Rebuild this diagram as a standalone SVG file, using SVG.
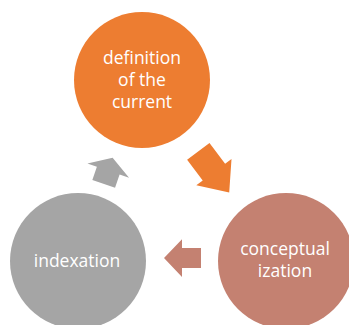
<svg xmlns="http://www.w3.org/2000/svg" width="349" height="325" viewBox="0 0 349 325">
  <style>
    .lbl { font-family: "Open Sans", "Liberation Sans", sans-serif; font-size: 17.5px; fill: #ffffff; text-anchor: middle; }
  </style>
  <rect width="349" height="325" fill="#ffffff"/>
  <g id="node-definition">
    <circle cx="142" cy="80" r="68" fill="#ED7D31"/>
    <text class="lbl" x="142" y="64">definition</text>
    <text class="lbl" x="142" y="86">of the</text>
    <text class="lbl" x="142" y="108">current</text>
  </g>
  <g id="node-conceptualization">
    <circle cx="286" cy="261" r="68" fill="#C48171"/>
    <text class="lbl" x="285" y="255">conceptual</text>
    <text class="lbl" x="285" y="277">ization</text>
  </g>
  <g id="node-indexation">
    <circle cx="78" cy="261" r="68" fill="#A5A5A5"/>
    <text class="lbl" x="77" y="267">indexation</text>
  </g>
  <g id="connectors">
    <polygon fill="#ED7D31" transform="translate(198.3 151.3) rotate(53.1)" points="0,-14 26,-14 26,-22 51.5,0 26,22 26,14 0,14"/>
    <polygon fill="#C48171" points="164,258 182,239.3 182,248 201,248 201,268 182,268 182,277"/>
    <polygon fill="#A5A5A5" transform="translate(103.7 183.8) rotate(-71.1)" points="0,-12 14,-12 14,-22 27.5,0 14,22 14,12 0,12"/>
  </g>
</svg>
